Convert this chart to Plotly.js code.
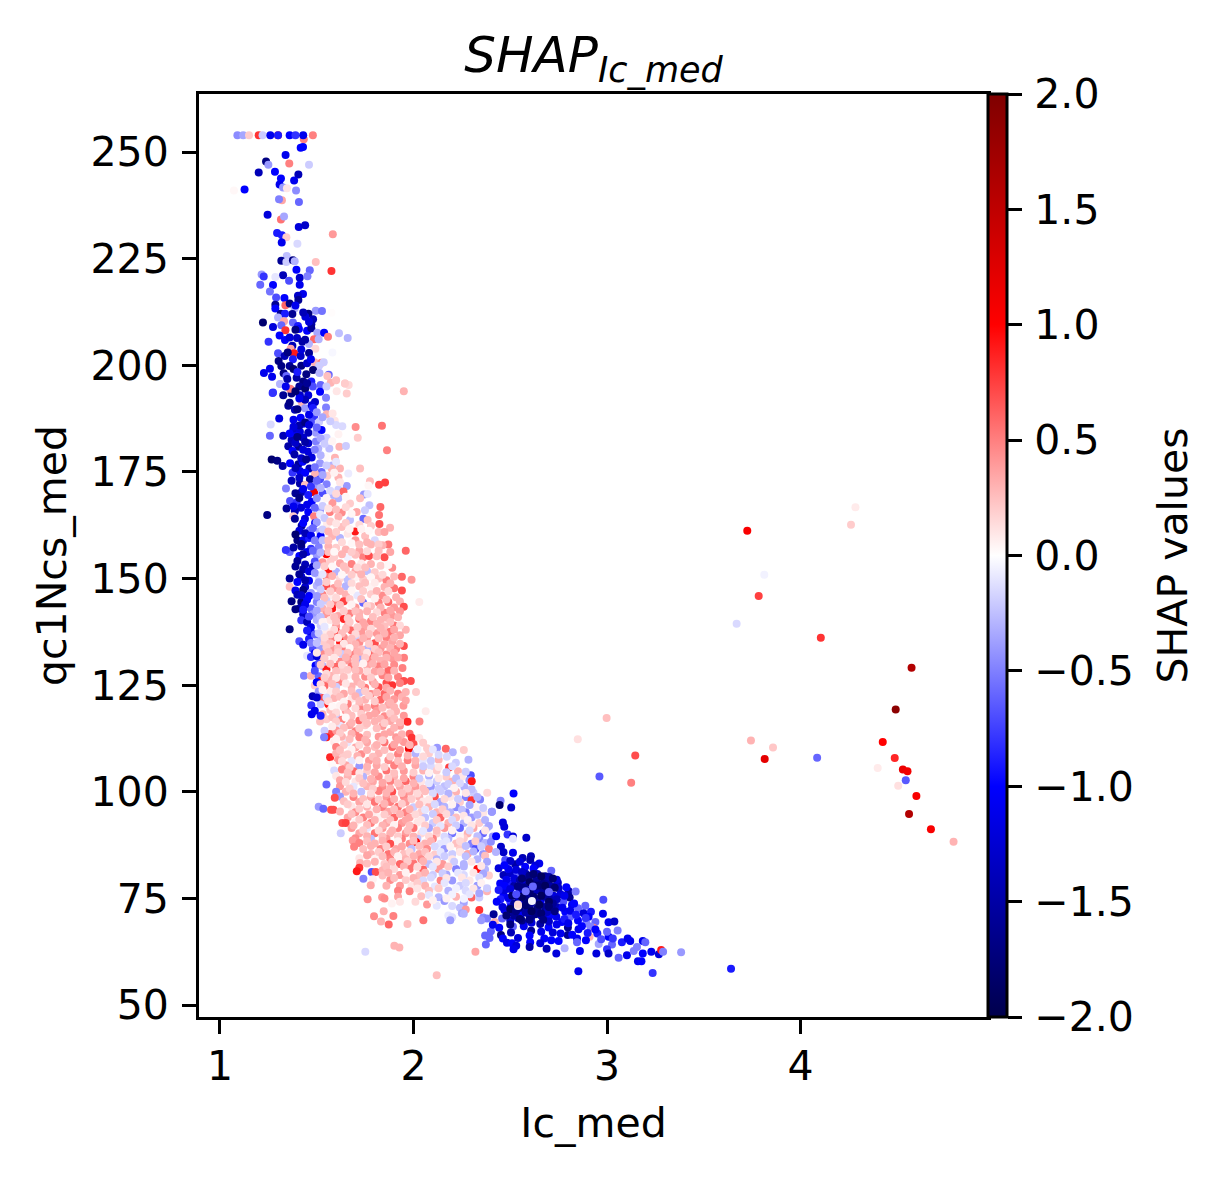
<!DOCTYPE html>
<html><head><meta charset="utf-8">
<script src="https://cdn.plot.ly/plotly-3.0.1.min.js"></script>
<style>html,body{margin:0;padding:0;background:#fff}</style></head>
<body><div id="chart" style="width:1226px;height:1178px"></div>
<script>
// each point: [Ic_med, qc1Ncs_med, SHAP value]
const topBand=[[1.09,253.9,-.45],[1.12,253.9,-.35],[1.15,253.9,.2],[1.2,253.9,.8],[1.3,253.9,.8],[1.22,253.9,-.2],[1.26,253.9,-1.1],[1.3,253.9,-.9],[1.36,253.9,-1],[1.39,253.9,-.8],[1.433,253,.5],[1.43,253.9,-1.1],[1.48,253.9,.5],[1.429,251.2,-1],[1.417,251,-1],[1.339,249.3,-1.1],[1.238,247.8,-1.7],[1.25,247,-.4],[1.358,247.3,.5],[1.46,247,-.2],[1.2,245.2,-1.4],[1.284,245.4,-1],[1.405,244.7,-1.4],[1.315,243.8,-1],[1.383,243.3,-1.1],[1.308,242.4,-1.1],[1.326,241.7,-.4],[1.346,241.5,.1],[1.393,241,-.45],[1.127,241.2,-1],[1.072,241,.03],[1.32,238.7,.35],[1.305,238.9,-.5],[1.408,238.3,-.6],[1.246,235.3,-1.2],[1.315,234.2,.55],[1.331,234.9,-.35],[1.407,232.4,-1.2],[1.44,232.8,-1.3],[1.583,230.7,.4],[1.295,231,-.9],[1.32,230.5,-.9],[1.343,230,.2],[1.319,228.8,-1.1],[1.4,228.5,-.15],[1.345,225.6,-.25],[1.317,224.5,-1.6],[1.343,224.2,-.2],[1.377,224.6,-1.7],[1.386,224.4,-.3],[1.495,224.2,.25],[1.576,222.1,.8],[1.395,222.4,-1],[1.464,222.3,-.6],[1.215,221.3,-.4],[1.226,220.8,-.8],[1.326,221.1,-1.4],[1.286,220.7,-.1],[1.412,220.5,-1.3],[1.452,220.9,-.5],[1.208,218.9,-.6],[1.274,218.8,-1],[1.357,219.8,-.7],[1.412,218.9,-1.1],[1.258,217.3,-.55],[1.29,215.9,-.7],[1.333,215.8,-1],[1.429,216.7,-1.1],[1.403,216.3,-1.3],[1.405,215.3,-1.6],[1.338,214.1,.6],[1.36,214.5,-1.7],[1.286,214.2,-1.6],[1.286,213.3,-1],[1.386,213.3,-.3],[1.495,212.8,-.4],[1.527,212.7,-.55],[1.576,212.3,.01],[1.457,212.1,-1.7],[1.441,211.4,-1.2],[1.374,212,-1.6],[1.314,212.1,-1.6],[1.336,212.1,-.9],[1.3,211.2,-.3],[1.481,210.8,-1.4],[1.222,210,-1.8],[1.331,210.3,.35],[1.377,210,-.6],[1.472,209.6,-1.5],[1.274,209,-1.2],[1.317,209.4,-.6],[1.338,208.2,.8],[1.403,209.2,-.9],[1.408,208.5,-1],[1.45,208.1,-1],[1.472,208.7,-1.6],[1.503,207.6,-.35],[1.538,207.6,-1],[1.558,206.7,.5],[1.615,207.5,-.25],[1.66,206.4,-.3],[1.308,207,-1],[1.251,205.5,-.8],[1.336,205.9,-1],[1.398,206.4,-1.3],[1.426,205.5,-1.5],[1.486,206.1,.6],[1.51,206.1,-.3],[1.374,204.6,-1.4],[1.365,203.9,.35],[1.46,205,-.3],[1.493,203.9,.15],[1.581,203,-.03],[1.3,202.8,-.7],[1.334,202.2,-1.4],[1.383,202.8,.9],[1.417,202.2,-1.3],[1.46,202.9,-1.6],[1.377,201.4,-.9],[1.303,201,-1.7],[1.488,200.7,.3],[1.524,200.6,.5],[1.536,200.7,-.2],[1.317,199.8,-1.7],[1.36,199.8,-1.6],[1.42,199.9,-1.7],[1.512,199.9,-.2],[1.481,198.9,-1.8],[1.258,199.2,-1.1],[1.227,198.2,-1.1],[1.269,197.3,-1.1],[1.329,198.1,-1.7],[1.446,197.9,-1.7],[1.514,198.2,-.3],[1.562,197.8,-.6],[1.555,197.5,.25],[1.343,197.5,-.6],[1.396,197.1,-1.5],[1.348,196.8,-1.5],[1.43,196.2,-1.7],[1.472,196.2,-.9],[1.48,195,-.7],[1.572,195.9,.3],[1.6,196.5,.25],[1.646,195.7,.2],[1.665,195.4,.15],[1.312,195.6,-.2],[1.365,194.3,.55],[1.274,193.6,-.8],[1.95,193.9,.3],[1.41,195,-1.6],[1.44,194.5,-1.8],[1.52,195.4,-.6],[1.55,195,-.2]];
const upperBand=[[1.272,193.5,-.8],[1.327,193,-1.6],[1.37,193.4,-1.7],[1.31,195.6,-.3],[1.362,194.5,.5],[1.413,193,-1.3],[1.456,193,-1.2],[1.517,193.8,-1],[1.548,192.4,-.5],[1.603,193.9,.1],[1.655,193.4,.2],[1.646,195.7,.2],[1.353,190.5,-1.6],[1.387,189.6,-1.4],[1.422,191.4,.3],[1.439,189.9,-.4],[1.491,191.4,-1.3],[1.474,190.6,-1.2],[1.548,190.1,-.5],[1.551,188.5,.3],[1.306,187.5,-1.2],[1.417,187.7,-1],[1.486,188,-.8],[1.47,186.7,-.7],[1.512,186.7,-.2],[1.582,188.7,.1],[1.593,187,.1],[1.262,186.1,-.15],[1.6,186,-.15],[1.632,185.7,-.15],[1.701,185.5,.45],[1.837,185.8,.55],[1.258,183.5,-.6],[1.327,183.5,-1.4],[1.379,184.8,-1.3],[1.413,184.4,-1.2],[1.456,184.2,-1.4],[1.496,184.2,-.4],[1.525,184.8,-1],[1.551,183,-.2],[1.612,183.8,.05],[1.712,183,.2],[1.395,183.5,-1.1],[1.43,183,-1.3],[1.37,182.5,-1.4],[1.353,181,-1.5],[1.405,180.9,-1.6],[1.456,181.7,-1.3],[1.496,182.1,-.5],[1.375,179.9,-1],[1.456,179.7,-1.2],[1.508,180.5,-.3],[1.565,180.5,-.25],[1.617,180.9,.3],[1.651,181.1,-.2],[1.863,180.1,.5],[1.39,181.8,-1.3],[1.43,180.2,-1.2],[1.474,178.4,-1.2],[1.548,178.5,.02],[1.594,178.3,.3],[1.267,177.9,-1.8],[1.296,177.6,-1.7],[1.324,176.4,-1.5],[1.362,177,-1],[1.405,176.8,-1.6],[1.427,177.4,-1],[1.517,177,-.4],[1.58,176.5,-.3],[1.724,175.8,.25],[1.375,174.8,-.8],[1.462,175.8,-1.4],[1.413,175.2,-1.1],[1.525,175,-.6],[1.577,175.8,.3],[1.62,175.8,.3],[1.663,174.6,-.08],[1.491,174.5,.3],[1.555,174.1,.2],[1.465,173.3,-1.6],[1.612,173.7,.3],[1.517,173.3,-.7],[1.413,172.3,-1.5],[1.775,172.8,.25],[1.822,172,.75],[1.853,172.5,.75],[1.767,171.8,.03],[1.341,171.1,-.5],[1.439,171.9,.25],[1.503,171.7,-.4],[1.551,172.1,-.5],[1.655,171.7,-.4],[1.422,170.3,-1.4],[1.486,170.2,1.1],[1.456,169.6,-.9],[1.53,170,-.7],[1.612,170.9,-.2],[1.638,170.4,.6],[1.585,169.6,-.3],[1.744,169.7,-.4],[1.763,169.8,-.1],[1.724,168.8,.25],[1.362,168.2,-.7],[1.396,167.8,-.8],[1.474,168,-1],[1.525,168.2,-.02],[1.612,168.8,-.3],[1.344,166.4,-1.6],[1.419,166.6,-1.2],[1.581,167.7,.4],[1.672,167.6,.2],[1.772,167.2,-.25],[1.829,166.8,.6],[1.387,165.8,-1.4],[1.456,165.6,-1],[1.517,166,-.4],[1.244,164.9,-1.7],[1.379,164.6,.2],[1.439,164,-1.2],[1.486,164.6,.5],[1.568,165.6,.5],[1.629,165.5,.45],[1.706,165.6,.35],[1.749,166,-.2],[1.822,164.9,.55],[1.387,164,-1.6],[1.517,165,-.1],[1.612,164.5,.3],[1.672,163.7,-.25],[1.741,164,-.6],[1.763,163.7,.25],[1.553,162.8,.08],[1.824,162.8,.7],[1.422,162.4,-1.5],[1.491,163,-.9],[1.698,161,.9],[1.879,161.9,.3],[1.465,161.3,-.5],[1.517,161,-.3],[1.629,162.1,.25]];
const midBand=[[1.36,156.2,-.6],[1.34,156.7,-.8],[1.4,159,-1.7],[1.43,159,-1.1],[1.46,159.5,-.9],[1.5,159,-.6],[1.52,160,-1],[1.58,160,.3],[1.62,159.5,-.3],[1.66,160.5,.1],[1.7,159,.4],[1.75,160,.25],[1.8,159,-.15],[1.78,158,.3],[1.87,158,.55],[1.84,157.8,.3],[1.42,157.5,-1.5],[1.47,157,-.8],[1.51,157.4,-.5],[1.56,157.5,.3],[1.6,157.2,.2],[1.65,156.8,.3],[1.72,156.5,.35],[1.96,156.5,.6],[1.41,155.3,-1],[1.5,155.5,-.4],[1.55,155.7,1],[1.59,155,.2],[1.66,155,-.05],[1.7,155.6,.25],[1.74,155,.5],[1.77,155.3,.7],[1.85,155,.7],[1.81,155.2,.25],[1.4,154.1,-1.6],[1.44,153.3,-1.4],[1.49,154,-.7],[1.53,153.8,.4],[1.57,154,.2],[1.62,153.6,.35],[1.68,153.4,.5],[1.73,153.5,.08],[1.78,153.4,.3],[1.89,152.5,.45],[1.48,152.7,-1.4],[1.43,152.2,-1.5],[1.56,151.7,.9],[1.6,151.6,-.3],[1.65,152,.25],[1.7,151.7,.35],[1.76,151.7,-.25],[1.8,151.5,.2],[1.94,150.4,.6],[1.36,150,-1.6],[1.42,150.5,-1.2],[1.46,149.5,-1.1],[1.51,150.6,-.15],[1.55,150.4,.5],[1.62,150,.15],[1.66,149.8,-.25],[1.7,150.3,.05],[1.74,149.8,.2],[1.82,150,.25],[1.86,149.6,.5],[1.99,149.7,.4],[1.36,148.1,.25],[1.39,147.2,-1.1],[1.44,148,-1.3],[1.5,148.3,-.3],[1.55,148.2,.7],[1.59,147.8,.4],[1.65,148.2,-.3],[1.72,148.2,.25],[1.78,148,.05],[1.85,148,.3],[1.9,147.7,.55],[1.94,147.2,.7],[1.4,146.2,-1.4],[1.47,146.6,-.4],[1.53,146.2,.5],[1.58,146,.08],[1.65,146.3,.3],[1.71,146,-.1],[1.78,146.3,.2],[1.84,146,.45],[1.37,144.7,-1.7],[1.42,144.5,-1.7],[1.45,145,-1],[1.5,144.5,-.5],[1.55,144.8,-.2],[1.6,144.5,.5],[1.64,144.7,.75],[1.74,144.3,-.6],[1.82,144.4,.5],[1.87,144.5,.6],[1.93,144.6,.3],[1.41,143,-1.4],[1.47,143,-.6],[1.53,143,.3],[1.58,143,.9],[1.62,143,.1],[1.7,143.2,.4],[1.78,143.5,.25],[1.95,143.4,.7],[1.43,141.6,-1.3],[1.48,141.6,-.4],[1.55,141.6,.4],[1.61,141.2,.35],[1.67,141.8,.5],[1.72,142,.3],[1.85,142,.5],[1.89,141.3,.4],[1.42,140.2,-.8],[1.45,139.8,-1.4],[1.5,140.3,-.3],[1.57,140.3,.1],[1.64,140.5,.85],[1.72,140.5,.6],[1.78,140,.5],[1.83,140.3,.3],[2.03,144.5,.08],[1.47,138.6,-1.1],[1.52,139,-.2],[1.6,138.8,.4],[1.66,139,.3],[1.75,138.7,.35],[1.85,138.8,.25],[1.9,139,.55],[1.36,138.1,-1.7],[1.47,137.3,-1.1],[1.55,137.6,.08],[1.6,137.6,.75],[1.68,137.8,.6],[1.73,137.5,.4],[1.81,137.2,.4],[1.88,137.5,.55],[1.96,138,.3],[1.93,139,.15],[1.46,135.8,-.9],[1.52,136,-.3],[1.58,136.1,.5],[1.64,136.2,.45],[1.7,136.5,-.2],[1.76,136.2,.4],[1.86,136.2,.5],[1.41,135.3,-.7],[1.54,135,.2],[1.62,135.2,.9],[1.66,134.7,.3],[1.72,135,.45],[1.8,134.8,.7],[1.89,135.2,.35],[1.95,134.2,.7],[1.43,134.5,-1.1],[1.48,133.5,-.7],[1.52,133.5,-.4],[1.58,133.6,.4],[1.64,133.5,.5],[1.7,133.8,.35],[1.76,133.5,-.3],[1.83,133.6,.4],[1.91,133.5,.5]];
const lowerBand=[[1.49,132.5,-1],[1.45,131.9,-.1],[1.47,131.6,-.8],[1.54,132.3,.45],[1.58,132,.3],[1.63,132.3,-.2],[1.68,132.3,.5],[1.73,132.3,.3],[1.79,132.3,.6],[1.86,132.2,.45],[1.951,131.4,.5],[1.89,131.3,.4],[1.52,131,.3],[1.56,131,.02],[1.62,130.5,.45],[1.66,130.8,.4],[1.72,131,-.35],[1.77,130.8,.45],[1.83,130.8,.3],[1.494,129.6,-1],[1.51,130,-.7],[1.53,129.5,-.3],[1.6,129.3,.6],[1.68,129.4,.55],[1.76,129.5,.35],[1.82,129.4,.5],[1.9,129.8,.45],[1.943,129,.5],[1.55,128.7,.9],[1.63,128.4,.2],[1.72,128.4,.35],[1.8,128.2,.35],[1.87,128.5,.6],[1.434,127.2,-.5],[1.47,127.2,.3],[1.51,127.1,-.6],[1.58,127.2,.3],[1.66,127.3,.05],[1.75,127,.45],[1.84,127.3,.5],[1.92,127,.5],[1.986,126,.7],[1.95,126,.7],[1.52,126,1],[1.56,125.8,.3],[1.62,125.8,.5],[1.71,125.8,.3],[1.79,125.8,.4],[1.86,125.5,.7],[1.89,125,.8],[1.93,125.5,.5],[1.49,124.9,.2],[1.54,124.8,.6],[1.6,124.6,-.2],[1.68,124.7,.3],[1.75,124.4,.55],[1.82,124.5,.7],[2.013,123.4,.2],[1.479,122.4,-1.4],[1.51,123.5,-.4],[1.57,123.4,.08],[1.64,123,.35],[1.72,123.2,-.25],[1.78,122.9,.45],[1.85,123,.6],[1.92,123,.5],[1.96,123.4,.3],[1.53,122,.7],[1.59,122,.3],[1.68,121.8,.1],[1.75,121.6,.3],[1.83,121.6,.6],[1.9,121.7,.4],[1.472,120.3,-.8],[1.52,120.5,-.2],[1.56,120.5,.9],[1.62,120.2,.05],[1.66,120.6,.5],[1.72,120.3,.35],[1.8,120.2,.5],[1.87,120.4,.35],[1.948,120.2,.4],[1.57,119.2,.25],[1.65,119,.4],[1.73,119.2,.5],[1.81,119,.4],[1.91,118.9,.3],[2.063,118.9,.08],[1.474,118.2,-1.1],[1.53,118.2,.3],[1.6,118,-.2],[1.68,117.8,.25],[1.77,117.8,.35],[1.85,117.7,.45],[1.95,117.8,.4],[1.55,117,.2],[1.63,116.9,.5],[1.72,116.7,.6],[1.8,116.5,.3],[1.517,116.5,.25],[1.88,116.6,.35],[2.031,116.5,.5],[1.969,116.4,.85],[1.62,115.5,-.1],[1.67,115.6,.35],[1.75,115.6,.2],[1.84,115.4,.4],[1.93,115.5,.4],[1.457,113.9,-.4],[1.572,113.6,.7],[1.54,114.3,-.2],[1.6,114.4,.4],[1.7,114.2,.5],[1.79,114.2,.02],[1.88,114,.35],[1.98,113.6,.6],[1.55,112.8,.9],[1.538,112.8,-.5],[1.63,112.9,.3],[1.72,112.8,.5],[1.82,112.9,.4],[1.91,112.8,.4],[1.991,112.7,.8],[2.03,112.6,.1],[2.05,111.5,.2],[1.59,111.7,.08],[1.66,111.6,-.1],[1.76,111.6,.35],[1.85,111.6,.55],[1.95,111.7,.4],[2,111.2,.7],[1.6,110.5,.5],[1.7,110.4,.35],[1.8,110.5,.25],[1.89,110.5,.6],[1.976,110.1,1.1],[2.122,110.3,-.4],[2.167,110.1,.6],[2.26,109.8,.2],[2.07,110.2,.2],[2.203,109.3,-.3]];
const bellyBand=[[1.569,108.1,.85],[1.6,109,.3],[1.64,108.5,.2],[1.73,108.8,.45],[1.82,109,.3],[1.92,108.8,.5],[2.01,109,-.3],[2.08,109,.2],[2.172,108.2,-.15],[2.284,107.5,-.3],[1.61,107.4,.4],[1.68,107.3,-.1],[1.77,107.3,.4],[1.87,107.4,.45],[1.97,107.4,.5],[2.05,107.5,-.1],[2.13,107.5,.3],[2.219,106.8,-.2],[1.58,106.4,.02],[1.65,106.2,.35],[1.72,106,-.4],[1.81,106.2,.35],[1.9,106.2,.5],[2.01,106.2,.35],[2.09,106,-.15],[2.184,105.7,.75],[1.59,105,-.15],[1.63,105.2,.5],[1.69,104.8,.6],[1.76,104.8,.2],[1.86,105,.55],[1.95,104.9,.4],[2.05,105,.3],[2.12,105,.2],[2.23,104.8,.3],[1.6,103.7,.1],[1.66,103.6,.3],[1.74,103.5,-.3],[1.82,103.6,.45],[1.9,103.6,.3],[2,103.6,.5],[2.08,103.7,-.3],[2.17,103.5,.2],[2.296,103.9,-.7],[2.25,103.5,.1],[1.62,102.7,.35],[1.7,102.4,.1],[1.79,102.4,.35],[1.88,102.5,.5],[1.96,102.5,.6],[2.04,102.4,.1],[2.12,102.5,-.2],[2.2,102.4,.3],[2.289,102.7,-.4],[2.301,102.5,.9],[1.55,101.7,-.6],[1.62,101.3,.4],[1.69,101.2,-.1],[1.76,101.3,.3],[1.84,101.2,.45],[1.93,101.2,.35],[2.01,101.2,.4],[2.09,101.2,-.4],[2.16,101.3,-.25],[2.263,101.1,-.3],[1.6,100,-.5],[1.65,100,.3],[1.73,100,-.25],[1.82,100.2,.5],[1.89,100,.7],[1.98,100,.35],[2.06,100.1,.25],[2.14,100.1,-.2],[2.22,100,.3],[2.381,99.8,.15],[2.31,99.8,-.2],[1.62,98.9,-.4],[1.69,98.8,.5],[1.78,98.8,.35],[1.86,98.8,.4],[1.95,98.9,.45],[2.03,98.8,.3],[2.11,98.9,.7],[2.19,98.8,.1],[2.27,98.8,-.5],[1.593,98.6,.7],[1.64,97.8,.25],[1.72,97.6,.35],[1.8,97.6,.55],[1.88,97.6,.5],[1.96,97.6,.4],[2.05,97.7,.1],[2.14,97.6,-.35],[2.24,97.6,.2],[2.344,98.2,-.5],[2.3,98,.8],[1.68,96.6,.1],[1.76,96.5,.3],[1.84,96.4,.5],[1.92,96.5,.55],[2,96.4,-.2],[2.08,96.5,.3],[2.16,96.5,-.3],[2.22,96.4,-.45],[2.32,96.5,.05],[1.51,96.5,-.4],[1.534,96,-.6],[1.574,95.8,.7],[1.586,95.8,.7],[1.62,95.4,.3],[1.7,95.2,.45],[1.79,95.2,.08],[1.87,95.3,.35],[1.96,95.2,.5],[2.04,95.2,.2],[2.12,95.2,.3],[2.19,95.2,-.3],[2.27,95.2,-.5],[2.405,95.3,-.5],[2.36,95,.1],[1.66,94,.35],[1.74,94,.5],[1.82,94,.05],[1.9,94,.6],[1.98,94,.35],[2.06,94,-.25],[2.14,94,.6],[2.22,94,.25],[2.3,94,-.4],[1.632,92.7,.7],[1.65,92.7,.75],[1.7,92.8,.05],[1.78,92.7,.5],[1.86,92.7,.35],[1.94,92.7,.4],[2.02,92.8,.1],[2.1,92.7,-.2],[2.18,92.7,.3],[2.26,92.7,-.3],[2.34,92.7,.2],[1.68,91.5,.4],[1.76,91.5,-.1],[1.84,91.5,.4],[1.92,91.5,.5],[2,91.5,.55],[2.08,91.5,-.35],[2.16,91.5,.4],[2.24,91.5,-.6],[2.31,91.5,.35],[2.38,91.5,-.2],[1.624,90.3,-.2],[1.72,90.3,.35],[1.8,90.3,.55],[1.88,90.3,.3],[1.96,90.3,.4],[2.04,90.2,.15],[2.12,90.2,.2],[2.2,90.3,-.55],[2.28,90.2,.3],[2.36,90.3,-.6],[1.7,89.1,.45],[1.78,89,-.25],[1.86,89,.4],[1.94,89,.5],[2.02,89,-.25],[2.1,89,.5],[2.18,89,-.3],[2.26,89.1,.2],[2.34,89,-.45],[1.686,88.6,.4],[1.72,88,.5],[1.8,87.9,.3],[1.88,87.8,.7],[2.013,88.2,1],[1.98,87.8,.45],[2.06,87.9,.3],[2.14,87.8,-.1],[2.22,87.9,.25],[2.3,87.8,-.5],[2.37,88,-.3],[1.693,87.1,.5],[1.74,86.6,.25],[1.83,86.6,.5],[1.91,86.6,.35],[1.99,86.6,-.25],[2.07,86.6,.45],[2.16,86.6,-.4],[2.24,86.6,.2],[2.32,86.6,-.7],[2.39,86.6,.5],[1.78,85.4,.3],[1.87,85.4,.55],[1.95,85.4,.25],[2.03,85.4,.35],[2.11,85.3,.2],[2.2,85.4,-.2],[2.28,85.4,.35],[2.36,85.4,-.4]];
const footBand=[[1.72,84.4,.1],[1.8,84.3,.05],[1.88,84.2,.5],[1.96,84.2,.3],[2.04,84.2,.45],[2.12,84.2,-.3],[2.2,84.2,.1],[2.33,84.2,-.3],[1.724,83.3,.3],[1.76,83.2,.25],[1.85,83.1,.2],[1.93,83.1,.6],[2,83.2,.55],[2.08,83.1,-.25],[2.15,83.1,.4],[2.26,83.1,-.3],[1.72,82.2,.8],[1.707,81.4,.9],[1.784,81.2,-.7],[1.805,81.2,.7],[1.84,81.6,.3],[1.9,81.9,.15],[1.98,81.9,.55],[2.05,81.8,.6],[2.13,81.9,.4],[2.22,81.9,-.5],[2.33,81.9,.95],[2.37,81.8,-.3],[1.84,80.4,.25],[1.93,80.5,.4],[2.03,80.4,.25],[2.1,80.5,-.2],[2.17,80.6,-.35],[2.26,80.5,-.15],[2.39,80.4,.2],[1.741,79.6,-.5],[1.79,79.5,.05],[1.88,79.3,.45],[1.96,79.3,.2],[2.05,79.2,-.15],[2.14,79.2,.5],[2.2,79.2,-.4],[2.29,79.2,.1],[1.779,78.1,.35],[1.86,78,.3],[1.93,78,.4],[1.99,77.9,.1],[2.06,78,.3],[2.11,77.8,-.1],[2.24,78,-.2],[2.33,78,-.4],[1.92,76.8,.5],[1.98,76.7,.5],[2.08,76.8,.25],[2.18,76.8,-.3],[2.27,76.8,-.15],[2.38,76.7,.3],[1.838,75.3,.4],[1.85,75,.45],[1.763,74.8,.45],[1.92,75.4,.35],[2.04,75.5,.25],[2.13,75.3,-.3],[2.22,75.4,.3],[2.3,75.2,.6],[2.34,75.2,-.2],[1.93,74.2,.1],[2.01,74.2,.15],[2.16,74.4,-.4],[2.26,74,-.35],[1.888,73.8,.05],[2.07,73.6,.4],[2.12,73.3,-.1],[2.2,73.2,-.15],[2.24,72.8,-.25],[2.27,72.4,.4],[2.34,72.3,.8],[2.25,71.5,-.35],[1.846,72,.3],[1.796,70.8,.45],[1.896,70.9,.5],[2.18,71,-.08],[2.2,70.6,-.12],[2.26,71.4,-.3],[2.36,70.5,-.45],[1.832,69.6,.3],[1.872,68.9,.6],[1.969,69,.25],[2.051,69.9,.55],[2.19,69.9,-.4],[1.751,62.5,-.15],[1.901,63.9,.3],[1.927,63.5,.3],[2.32,62.5,.35],[2.12,57,.25],[2.42,69.5,.3],[2.38,70.3,-.5],[2.4,67.3,-.6],[2.37,66.3,-.6]];
const blueFill=[[1.39,208.3,-1.7],[1.44,206,-1.5],[1.42,203.7,-1.2],[1.35,203,-1.7],[1.45,200.5,-1.3],[1.38,199.1,-1.8],[1.47,201.4,-1.1],[1.34,195,-1.1],[1.39,193.9,-1.8],[1.44,191.9,-1.4],[1.36,191.2,-1.7],[1.4,189.7,-1.7],[1.46,188.4,-1.1],[1.38,187.2,-1.1],[1.43,186.3,-1],[1.41,185.9,-1.5],[1.38,185.6,-1.2],[1.44,182,-1.5],[1.4,183.2,-1.7],[1.36,184,-1],[1.385,179.1,-1.5],[1.42,178.2,-1.3],[1.445,177.9,-1.6],[1.39,175.9,-1.4],[1.44,174.8,-1],[1.41,173.6,-1.3],[1.37,172.9,-1.4],[1.43,171,-1.1],[1.39,170,-1.6],[1.47,171.6,-.8],[1.41,168.9,-1.7],[1.45,167.3,-1.1],[1.38,166.9,-1.1],[1.43,163,-1],[1.41,161.2,-1.2],[1.39,160.3,-1.8],[1.44,160.6,-1.4],[1.47,160.1,-1.1],[1.42,158.1,-1.7],[1.38,157.3,-1.5],[1.45,156.2,-1.1],[1.43,155.7,-1.5],[1.39,152.8,-1.6],[1.46,151.7,-1.2],[1.41,151,-1.6],[1.44,149.6,-1.5],[1.4,149.2,-1],[1.43,147.3,-1.7],[1.46,145.9,-1],[1.42,146.1,-1.3],[1.44,143.9,-1.1],[1.39,142.8,-1.7],[1.43,142.7,-.9],[1.46,141.1,-.7],[1.45,137.8,-.9],[1.49,136.9,-.6],[1.47,134.9,-.5],[1.5,131.8,-1.2],[1.49,128.4,-.7],[1.5,125.7,-1],[1.5,122.1,-1.3],[1.52,117.8,-.9],[1.49,119,-1.1],[1.44,186.6,-1.7],[1.46,186,-1.2],[1.48,190,-.9],[1.41,192.2,-1.1],[1.45,195.8,-1.6],[1.4,198.4,-.9],[1.36,206.5,-1.2],[1.46,210.2,-1.2],[1.43,212.4,-1.4],[1.39,214,-1.1]];
const paleFill=[[1.5,189,-.4],[1.53,187.8,-.35],[1.57,186.9,-.2],[1.5,185.4,-.6],[1.52,182.9,-.35],[1.54,181.6,-.2],[1.58,182.2,.04],[1.49,180.2,-.5],[1.52,178.9,-.3],[1.55,176.5,-.2],[1.6,177.4,-.1],[1.49,176.1,-.55],[1.53,174.3,-.35],[1.59,174.8,.05],[1.62,172.6,.1],[1.5,172.9,-.6],[1.52,171.2,-.3],[1.57,170.6,-.15],[1.5,168.8,-.45],[1.55,168.9,.04],[1.6,169.9,.15],[1.65,169.2,.03],[1.49,166.6,-.6],[1.53,167,-.2],[1.56,166.4,.1],[1.6,166.2,.25],[1.65,166.7,.15],[1.68,165.2,.04],[1.5,163.2,-.4],[1.54,164.2,-.2],[1.57,163.4,.2],[1.6,162.9,.1],[1.65,163,.2],[1.72,162.6,.15],[1.78,162.3,.2],[1.48,161.8,-.6],[1.53,161.5,-.2],[1.56,161,.3],[1.6,160.9,.2],[1.67,161.6,.05],[1.73,161.6,.05],[1.77,161.2,.02],[1.82,160.9,.25],[1.85,160.9,.35],[1.49,158.9,-.5],[1.53,159,-.25],[1.56,158.9,.25],[1.63,158.5,.15],[1.68,158.3,.03],[1.72,158,.25],[1.76,158.5,.3],[1.82,158,.2],[1.48,156.5,-.6],[1.52,156.1,-.3],[1.56,156.2,.25],[1.59,156.3,.03],[1.63,155.7,.3],[1.68,156.2,.2],[1.76,156.4,.15],[1.82,156.5,.25],[1.88,156.2,.35],[1.5,153.1,-.35],[1.54,152.9,.2],[1.58,152.8,.03],[1.64,152.9,.25],[1.71,152.6,.15],[1.75,152.6,.25],[1.83,153,.2],[1.87,153.2,.03],[1.49,151.3,-.4],[1.53,151,-.1],[1.58,150.6,.3],[1.63,150.9,.03],[1.68,150.9,.2],[1.73,151,.3],[1.78,150.3,.03],[1.84,150.9,.15],[1.9,150.5,.25],[1.51,149.1,-.35],[1.55,149.2,.2],[1.61,148.8,.25],[1.68,148.9,.15],[1.75,149,.25],[1.8,149,.08],[1.88,148.9,.3],[1.52,147.4,-.2],[1.57,147,.2],[1.62,147.1,.3],[1.68,147.2,.04],[1.74,147.1,.2],[1.81,147.1,.3],[1.87,147,.15],[1.5,145.9,-.4],[1.54,145.5,.25],[1.6,145.5,.15],[1.67,145.2,.2],[1.73,145.2,.25],[1.8,145.3,.05],[1.86,145.1,.25],[1.91,145.6,.3],[1.52,144,-.2],[1.57,143.9,.2],[1.62,143.8,.25],[1.68,143.9,.05],[1.76,143.6,.15],[1.83,143.2,.3],[1.9,143.2,.4],[1.5,142.5,-.35],[1.56,142.4,.25],[1.64,142.4,.2],[1.7,142.3,.25],[1.76,142.3,.3],[1.81,142.1,.15],[1.88,142.5,.35],[1.93,142.3,.4],[1.52,141,-.25],[1.59,141,.25],[1.66,140.7,.2],[1.72,141,.3],[1.79,141,.25],[1.86,140.8,.3],[1.92,140.9,.3],[1.53,139.8,.05],[1.6,139.9,.25],[1.67,139.8,.2],[1.74,139.7,.35],[1.81,139.4,.3],[1.88,139.8,.25],[1.54,138.7,-.1],[1.59,138,.15],[1.65,138.2,.25],[1.71,138.6,.2],[1.78,138.2,.15],[1.83,138.4,.3],[1.9,138,.35],[1.51,137.2,-.2],[1.57,136.9,.2],[1.63,137.2,.25],[1.7,137,.15],[1.77,137,.25],[1.85,137.1,.3],[1.93,136.7,.35],[1.54,136.2,.15],[1.61,136.1,.1],[1.68,135.9,.25],[1.74,136,.3],[1.82,136,.25],[1.9,136.2,.3],[1.5,134.9,-.25],[1.57,134.8,.25],[1.64,134.7,.1],[1.7,134.6,.3],[1.77,134.7,.2],[1.85,134.6,.35],[1.93,134.7,.3],[1.55,133.9,.2],[1.61,133.7,.25],[1.67,133.7,.03],[1.73,133.4,.25],[1.8,133.5,.2],[1.88,133.7,.3],[1.5,132.6,.1],[1.56,132.8,.25],[1.61,132.7,.2],[1.66,132.6,.25],[1.71,132.8,.3],[1.76,132.6,.1],[1.82,132.7,.25],[1.9,132.6,.35],[1.54,131.3,.2],[1.59,131.4,.1],[1.65,131.5,.3],[1.7,131.3,.25],[1.75,131.4,.2],[1.8,131.6,.3],[1.86,131.4,.3],[1.92,131.5,.35],[1.52,129.8,.2],[1.57,130,.25],[1.63,129.8,.15],[1.7,130,.25],[1.74,130.1,.05],[1.79,130,.3],[1.85,129.9,.35],[1.9,128.4,.3],[1.55,127.7,.15],[1.6,128.3,.25],[1.66,128.6,.2],[1.7,128.5,.25],[1.76,128.2,.15],[1.83,128.2,.3],[1.54,126.8,.2],[1.6,126.7,.1],[1.64,126.9,.25],[1.7,126.9,.3],[1.78,126.8,.2],[1.87,126.8,.35],[1.52,125.2,.15],[1.58,125.3,.25],[1.65,125.4,.1],[1.73,125.2,.25],[1.8,125.2,.3],[1.86,124.4,.35],[1.53,123.9,.05],[1.6,123.5,.2],[1.68,123.6,.25],[1.75,123.6,.2],[1.81,123.3,.3],[1.88,123.7,.3],[1.55,122.1,-.15],[1.62,122.3,.25],[1.7,122.4,.3],[1.77,122.5,.2],[1.86,122.2,.35],[1.94,122.2,.3],[1.56,121.2,.15],[1.64,121.1,.05],[1.72,121.3,.25],[1.8,121.2,.2],[1.88,120.9,.3],[1.96,121.4,.35],[1.58,120,.03],[1.64,119.8,.2],[1.7,119.6,.15],[1.76,119.7,.3],[1.84,119.7,.25],[1.9,119.9,.3],[1.6,118.6,.15],[1.66,118.4,.25],[1.73,118.3,.2],[1.8,118.3,.35],[1.88,118.4,.2],[1.58,117.5,.25],[1.65,117.4,.03],[1.74,117.3,.25],[1.83,117.1,.3],[1.9,117.2,.25],[1.6,116.5,.2],[1.68,116.2,.3],[1.76,116,.25],[1.85,116.1,.2],[1.93,116.3,.3],[1.58,115.3,.08],[1.64,115,.25],[1.72,114.9,.2],[1.81,114.9,.25],[1.9,115,.3],[1.62,113.8,.2],[1.68,113.6,.3],[1.76,113.4,.25],[1.85,113.5,.35],[1.94,113.5,.3],[1.6,112.4,.05],[1.67,112.4,.25],[1.75,112.2,.3],[1.84,112.1,.2],[1.92,112.2,.35],[1.64,111,.2],[1.72,111,.15],[1.81,111,.3],[1.9,111.1,.35],[1.98,111,.3],[1.62,109.8,.25],[1.68,109.9,.05],[1.76,109.8,.3],[1.85,109.8,.25],[1.93,109.8,.4],[2.02,110,-.05],[2.1,109.9,-.1],[1.66,108.8,.2],[1.71,108.4,.3],[1.79,108.2,.25],[1.88,108.3,.2],[1.97,108.5,.3],[2.05,108.3,.15],[2.13,108.7,-.15],[1.63,107.2,.15],[1.72,107.4,.05],[1.81,107.3,.3],[1.92,107.2,.25],[2.01,107.3,.3],[2.09,107.3,-.2],[1.67,105.7,.2],[1.76,105.9,.3],[1.85,105.8,.2],[1.94,106,.3],[2.05,106,-.2],[2.13,105.8,.1],[2.2,106,-.15],[1.66,104.5,.25],[1.72,104.4,.1],[1.8,104.6,.35],[1.9,104.4,.25],[2,104.5,.2],[2.08,104.4,.05],[2.17,104.6,-.2],[2.27,104.7,-.2],[1.72,103.2,.2],[1.78,103,.3],[1.87,103.2,.2],[1.95,103.2,.35],[2.03,103.1,-.2],[2.13,103.2,.1],[2.22,103.2,-.25],[1.65,102.3,.15],[1.74,102,.25],[1.84,102.1,.35],[1.92,102,.25],[2,102,.3],[2.08,102,-.1],[2.18,101.8,-.2],[2.24,102,-.15],[1.67,100.8,.2],[1.79,100.7,.2],[1.88,100.8,.3],[1.97,100.8,.2],[2.05,100.7,.25],[2.13,100.7,-.2],[2.21,100.9,.05],[2.3,100.6,-.25],[1.69,99.6,.3],[1.78,99.6,.15],[1.86,99.7,.3],[1.94,99.7,.25],[2.02,99.6,.15],[2.1,99.6,-.15],[2.18,99.6,-.3],[2.27,99.7,.1],[1.74,98.3,.25],[1.82,98.2,.2],[1.9,98.3,.3],[1.99,98.3,.2],[2.08,98.2,.1],[2.16,98.3,.15],[2.23,98.3,-.2],[2.33,98.8,-.3],[1.66,97.1,.2],[1.76,97.1,.1],[1.85,97.2,.3],[1.94,97.2,.2],[2.03,97,.25],[2.11,97.1,-.15],[2.2,97,.05],[2.29,96.9,-.35],[1.72,96,.2],[1.81,95.9,.3],[1.9,95.9,.25],[1.98,95.9,.3],[2.06,95.8,-.1],[2.15,95.9,.2],[2.25,95.8,-.25],[2.36,96.2,-.2],[1.68,94.8,.25],[1.77,94.7,.35],[1.85,94.7,.2],[1.93,94.8,.3],[2.01,94.7,.15],[2.1,94.8,-.2],[2.17,94.8,.15],[2.26,94.4,.1],[2.33,94.6,-.3],[1.72,93.5,.2],[1.8,93.4,.3],[1.88,93.4,.25],[1.96,93.4,.35],[2.04,93.4,.1],[2.12,93.4,.2],[2.2,93.4,-.15],[2.28,93.4,.05],[2.37,93.4,-.3],[1.69,92.1,.3],[1.76,92.2,.25],[1.84,92.1,.3],[1.9,92.2,.05],[1.98,92.1,.25],[2.06,92.1,.2],[2.14,92,-.1],[2.22,92.1,-.2],[2.3,92.1,.1],[2.39,92,-.35],[1.74,91,.2],[1.82,90.9,.15],[1.89,90.9,.3],[1.97,90.9,.25],[2.05,90.8,-.1],[2.12,90.9,.25],[2.2,90.9,.05],[2.29,90.9,-.15],[2.37,90.9,.1],[1.76,89.6,.3],[1.84,89.5,.25],[1.92,89.6,.2],[2,89.5,.3],[2.08,89.6,.15],[2.16,89.5,-.15],[2.24,89.5,.05],[2.33,89.6,-.25],[2.41,89.5,-.4],[1.76,88.4,.25],[1.84,88.5,.3],[1.92,88.4,.05],[2,88.5,.25],[2.09,88.4,.3],[2.17,88.4,-.1],[2.24,88.4,.15],[2.32,88.4,.2],[2.4,88.3,-.45],[1.78,87.3,.3],[1.86,87.2,.2],[1.94,87.2,.35],[2.03,87.3,.25],[2.11,87.2,-.15],[2.19,87.2,.05],[2.27,87.3,-.25],[2.35,87.2,-.2],[1.82,85.9,.2],[1.9,85.9,.3],[1.98,85.9,.15],[2.06,85.9,.25],[2.14,85.9,-.1],[2.24,85.9,.1],[2.31,86,-.3],[1.76,85.1,.35],[1.84,84.9,.25],[1.92,84.9,.05],[2,84.9,.3],[2.08,84.9,.15],[2.16,84.9,-.2],[2.27,84.9,-.25],[2.37,85,.25],[1.8,83.6,.3],[1.89,83.6,.25],[1.97,83.7,.2],[2.05,83.7,.3],[2.12,83.6,.1],[2.21,83.6,-.2],[2.3,83.6,.1],[2.38,83.6,-.35],[1.86,82.5,.25],[1.95,82.5,.3],[2.02,82.4,.15],[2.1,82.4,-.1],[2.18,82.5,.2],[2.26,82.5,-.3],[2.35,82.6,.1],[1.87,81,.3],[1.96,81.1,.05],[2.06,81,.3],[2.15,80.9,-.2],[2.23,81,-.1],[2.31,81,.1],[2.36,80.8,-.35],[1.9,79.8,.25],[2,79.8,.3],[2.09,79.9,-.15],[2.17,79.8,.1],[2.25,79.9,.1],[2.34,79.9,-.15],[2.02,78.6,.2],[2.16,78.6,-.1],[2.27,78.6,-.15],[2.35,78.6,.05],[2.02,77.3,.1],[2.13,77.4,.2],[2.22,77.4,-.05],[2.31,77.3,.1],[2.38,77.4,-.2],[2.08,75.8,-.1],[2.2,75.9,-.05],[2.29,76,-.1],[2.34,76.2,-.35],[2.17,75,.05],[2.26,74.9,-.05],[2.1,74.6,.05]];
const blueToe=[[2.517,99.6,-1],[2.45,97.9,-.5],[2.445,96.9,-1.8],[2.505,96.3,-1.3],[2.405,95.3,-.4],[2.462,92.8,-1.2],[2.469,91.8,-1.2],[2.583,89.2,-1.3],[2.427,89.6,-1],[2.486,90,-.8],[2.514,89.5,-1.2],[2.514,89,-.1],[2.452,87.1,-1.3],[2.465,85.8,-1.3],[2.514,85.7,-1.1],[2.426,85.9,-.3],[2.564,84.5,-1.4],[2.607,84.9,-1.4],[2.603,84,-1.5],[2.65,83.2,-1.1],[2.629,82.7,-1.2],[2.712,81.5,-.6],[2.474,84,-.7],[2.526,83,-1.5],[2.44,82.1,-1.2],[2.577,82.4,-1],[2.62,82,-1],[2.465,80.5,-1.4],[2.5,80.9,-1.3],[2.538,80.9,-.6],[2.586,79.5,-1.7],[2.634,79.3,-1.6],[2.676,79.5,-1.7],[2.698,78.9,-1.6],[2.746,78.7,-1.4],[2.448,78.5,-1],[2.503,78.4,-.9],[2.56,78.5,-1],[2.664,77.4,-1.7],[2.72,77.8,-1.5],[2.802,76.7,-1.5],[2.838,76.6,-.5],[2.465,75.8,-1],[2.603,75.6,-1.2],[2.664,76.2,-1.6],[2.724,75.6,-1.2],[2.807,75.2,-1.6],[2.5,74.2,-.8],[2.658,74.4,-1.1],[2.724,74.2,-1.3],[2.774,74.2,-.7],[2.981,74.7,-.7],[2.819,73.5,-1.1],[2.888,73.3,-.6],[2.85,72.7,-.6],[2.47,72.3,-1.1],[2.595,72.3,-1.6],[2.655,72.3,-.6],[2.715,72.3,-1.4],[2.414,71.3,-1.6],[2.508,71.7,-1.5],[2.555,71.3,-1],[2.784,71.9,-1],[2.879,71.5,-1.2],[2.979,71.4,-1.1],[2.917,71.9,-.9],[2.458,70.3,-.6],[2.607,70.3,-1.6],[2.698,70.7,-1.2],[2.738,70.7,-1.1],[2.81,70.7,-.6],[2.905,70.7,-1],[2.35,69.9,-.4],[2.569,69.2,-1.2],[2.655,69,-1.5],[2.767,69.5,-1],[2.893,69.2,-.5],[2.94,69.5,-.6],[3.008,69.4,-1.1],[3.038,69.6,-1.3],[2.41,68.8,-1.1],[2.443,68.1,-1],[2.514,68.4,-.6],[2.504,67,-1.4],[2.608,67.4,-1.6],[2.698,68.2,-1],[2.798,68.2,-1.6],[2.853,67.8,-1.1],[2.93,68.1,.5],[2.914,68.4,-.5],[3.055,67.5,-.5],[2.452,66.4,-1.7],[2.462,65.6,-1],[2.676,65.6,-1],[2.797,66.4,-1.6],[2.91,66,.3],[3.008,66,-1],[2.393,65.7,-.6],[2.374,64.2,-.6],[2.483,64.6,-1.1],[2.509,64.5,-1],[2.531,63.9,-1.2],[2.603,64.7,-1],[2.655,64.5,-1.2],[2.712,65.2,-1],[2.75,65,-1],[2.845,65.6,-1.1],[2.845,64.7,-.6],[2.891,65.2,-1],[2.957,64.3,-.35],[3.026,64.2,-.6],[3.077,64.7,-.9],[3.107,65.6,-1.1],[3.12,65,-1.1],[3.185,65,-1.1],[3.198,64.7,-.6],[2.517,63.1,-1.1],[2.6,63.6,-1.5],[2.688,63.2,-1.4],[2.781,63.3,-.3],[2.86,62.7,-1.1],[2.738,62.1,-1.2],[2.945,62.1,-1.2],[3.0,63.1,-.8],[3.008,62.1,-1.3],[3.06,61.1,-.6],[3.103,61.7,-1.1],[3.138,62.7,-.5],[3.155,63.6,-.5],[3.185,62.1,-1],[3.229,62.5,-1.1],[3.268,61.9,-1.2],[3.28,62.9,.9],[3.29,62.5,-.5],[3.383,62.4,-.4],[3.16,60.3,-1.1],[3.178,60.3,-1],[2.852,57.9,-1.1],[3.236,57.5,-.8],[3.641,58.5,-.9],[2.55,77,-1.3],[2.58,76,-1.5],[2.63,76.8,-1.4],[2.68,73,-1.6],[2.74,73,-1.4],[2.56,74,-1.2],[2.5,72.9,-1.1],[2.6,71,-1.5],[2.66,71,-1.3],[2.71,71.2,-1],[2.78,70.2,-.9],[2.54,70.4,-1.2],[2.5,69.8,-1.3],[2.62,78.2,-1.7],[2.68,80.2,-1.6],[2.58,80.8,-1.4],[2.52,78,-1.5],[2.47,76.9,-1.2],[2.45,74.8,-.9],[2.6,73,-1.7],[2.7,75,-1.5],[2.76,76,-1.2],[2.83,73.8,-1],[2.57,68.5,-1.1],[2.72,67,-1.2],[2.66,67.2,-1.1],[2.85,69.8,-1],[2.95,66.8,-.9],[2.49,81.9,-1.1],[2.53,81.7,-1.2],[2.56,81.2,-1.3],[2.6,80.3,-1.7],[2.64,80.7,-1.4],[2.7,80,-1.5],[2.74,79.4,-1.2],[2.48,79.4,-1.1],[2.52,79.7,-1.2],[2.55,79.2,-1.5],[2.59,78.2,-1.3],[2.66,78.4,-1.7],[2.7,77.2,-1.6],[2.75,77.4,-1.3],[2.79,77.6,-1],[2.47,78,-1],[2.5,77.2,-1.2],[2.54,75.2,-1.4],[2.58,74.7,-1.7],[2.61,74,-1.5],[2.64,74.8,-1.6],[2.68,75.4,-1.6],[2.74,74.8,-1.4],[2.78,75.6,-1.1],[2.49,75.1,-1.1],[2.52,73.8,-1.6],[2.55,72.8,-1.7],[2.64,72.7,-1.7],[2.58,71.7,-1.5],[2.63,71.3,-1.7],[2.69,71.8,-1.4],[2.72,73.8,-1.6],[2.77,72.8,-1.1],[2.81,72.1,-1.1],[2.84,71.2,-.9],[2.89,70.4,-.8],[2.52,71,-1.6],[2.56,69.8,-1.7],[2.61,69.3,-1.2],[2.7,69.6,-1.3],[2.74,68.9,-1.1],[2.8,69.2,-1.1],[2.87,68.5,-1],[2.94,67.7,-1],[3,67.2,-.6],[2.6,66.3,-1],[2.54,65.7,-1.2],[2.76,66.8,-1.1],[2.82,66.5,-1],[2.9,66.9,-.9],[2.97,65.4,-.7],[3.03,65.6,-.8],[2.5,83.8,-1.3],[2.55,83.6,-1.2],[2.47,82.8,-1],[2.44,77,-.9],[2.43,74.2,-1],[2.46,73,-1.2],[2.62,80.7,-1.8],[2.66,80.2,-1.9],[2.72,79.7,-1.8],[2.56,79.7,-1.8],[2.6,78.8,-1.9],[2.64,78,-1.8],[2.68,78,-1.9],[2.73,77.5,-1.8],[2.57,77.6,-1.7],[2.6,76.6,-1.8],[2.66,75.6,-1.9],[2.7,74.2,-1.9],[2.62,75.4,-1.8],[2.54,77.8,-1.7],[2.51,75.6,-1.8],[2.56,75.4,-1.9],[2.6,74.2,-1.8],[2.65,73.5,-1.9],[2.7,73,-1.8],[2.58,73.4,-1.8],[2.5,72.5,-1.9],[2.53,72,-1.7],[2.61,72,-1.9],[2.66,71.5,-1.8],[2.73,72,-1.7],[2.55,70.2,-1.8],[2.6,70,-1.7],[2.67,70,-1.7],[2.48,71,-1.8],[2.5,68.9,-1.7],[2.54,73.2,.05],[2.612,74.4,-.05],[2.54,73.6,.15],[2.617,77.8,-.6],[2.531,76,-.7],[2.7,76.5,-.6],[2.58,76.7,-.55]];
const farPoints=[[4.284,166.7,.08],[4.261,162.6,.2],[3.725,161.2,1.05],[3.813,150.9,-.05],[3.784,145.9,.75],[3.67,139.4,-.15],[4.105,136.1,.8],[4.574,129.1,1.6],[4.492,119.3,1.9],[4.425,111.7,1],[3.744,112,.3],[3.858,110.4,.22],[3.815,107.7,1.2],[4.086,108,-.6],[4.487,107.9,.85],[2.998,117.3,.25],[2.849,112.3,.12],[3.146,108.5,.7],[2.961,103.6,-.65],[3.125,102.1,.5],[4.399,105.6,.08],[4.529,105.2,1.15],[4.553,104.8,1.1],[4.544,102.7,-.65],[4.505,101.4,.12],[4.599,99,1.05],[4.561,94.8,1.6],[4.674,91.2,1.05],[4.791,88.3,.3]];
const colorbarTicks=[-2,-1.5,-1,-0.5,0,0.5,1,1.5,2];
const colorbarLabels=['−2.0','−1.5','−1.0','−0.5','0.0','0.5','1.0','1.5','2.0'];

const allPoints=[...topBand,...upperBand,...midBand,...lowerBand,...bellyBand,...footBand,...blueFill,...paleFill,...blueToe,...farPoints];
const icMed=allPoints.map(p=>p[0]), qcMed=allPoints.map(p=>p[1]), shapValues=allPoints.map(p=>p[2]);

const fontFam='"DejaVu Sans", sans-serif', fs=41;
const seismic=[[0,'rgb(0,0,76)'],[0.25,'rgb(0,0,255)'],[0.5,'rgb(255,255,255)'],[0.75,'rgb(255,0,0)'],[1,'rgb(127,0,0)']];
const tfont={family:fontFam,size:fs,color:'#000'};
const axisBase={showgrid:false,zeroline:false,showline:true,mirror:true,linecolor:'#000',linewidth:3,ticks:'outside',ticklen:14,tickwidth:3,tickcolor:'#000',tickfont:tfont};
Plotly.newPlot('chart',[{type:'scatter',mode:'markers',x:icMed,y:qcMed,hoverinfo:'skip',
 marker:{size:8,color:shapValues,cmin:-2,cmax:2,colorscale:seismic,line:{width:0},
 colorbar:{x:1,xref:'paper',xanchor:'left',xpad:0,ypad:0,y:0.5,yanchor:'middle',len:1,lenmode:'fraction',thickness:19,thicknessmode:'pixels',outlinewidth:3,outlinecolor:'#000',
  ticks:'outside',ticklen:14,tickwidth:3,tickcolor:'#000',tickmode:'array',tickvals:colorbarTicks,ticktext:colorbarLabels.map(s=>'\u200a'+s),tickfont:tfont}}}],
 {width:1226,height:1178,paper_bgcolor:'#fff',plot_bgcolor:'#fff',showlegend:false,
  margin:{l:199,r:238,t:94,b:161,pad:0,autoexpand:false},
  title:{text:'<i>SHAP<sub>Ic_med</sub></i>',font:{family:fontFam,size:50,color:'#000'},x:0.5,xref:'paper',xanchor:'center',y:0.939,yref:'container',yanchor:'bottom'},
  xaxis:{...axisBase,range:[0.8915,4.969],tickvals:[1,2,3,4],ticktext:['1','2','3','4'],ticklabelstandoff:-3,title:{text:'Ic_med',standoff:20,font:tfont}},
  yaxis:{...axisBase,range:[47.2,263.6],tickvals:[50,75,100,125,150,175,200,225,250],ticklabelstandoff:5,title:{text:'qc1Ncs_med',standoff:12,font:tfont}},
  annotations:[{text:'SHAP values',textangle:-90,xref:'paper',yref:'paper',x:1,y:0.5,xanchor:'center',yanchor:'middle',xshift:184,showarrow:false,font:tfont}]
 },{displayModeBar:false,staticPlot:true});
</script></body></html>
